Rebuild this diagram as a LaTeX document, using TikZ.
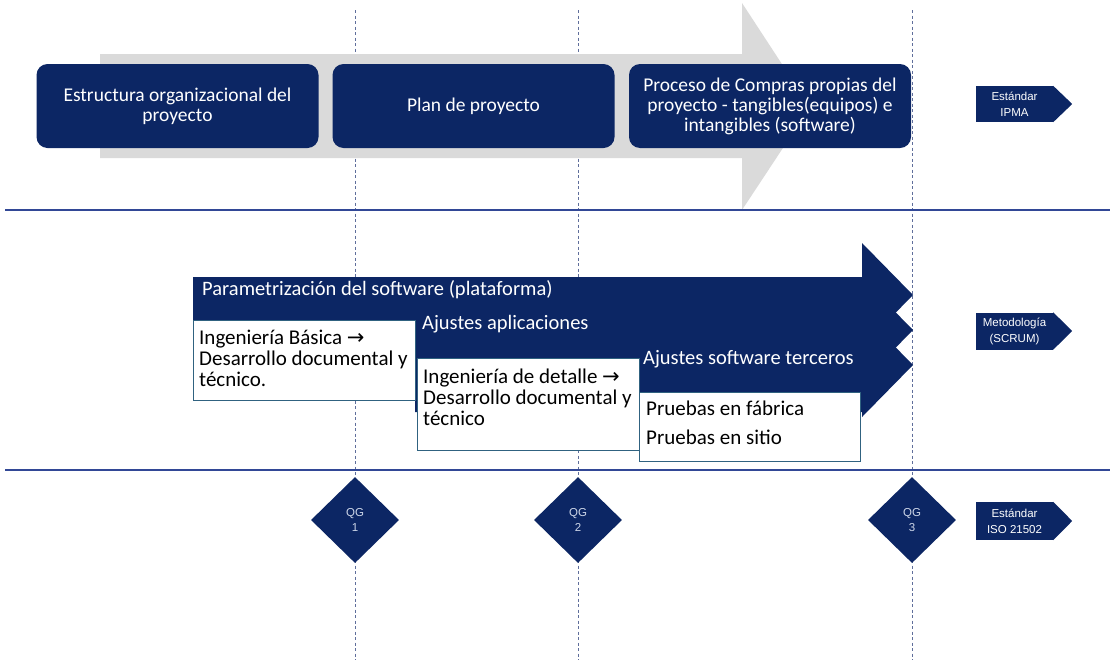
\documentclass[tikz,border=0pt]{standalone}
\usepackage{fontspec}
\setmainfont{Carlito}
\newfontfamily\arialfont{Liberation Sans}
\newfontfamily\symfont{DejaVu Sans}
\usetikzlibrary{shapes.geometric,calc}

\definecolor{navy}{RGB}{12,38,100}
\definecolor{greyarrow}{RGB}{218,218,218}
\definecolor{boxedge}{RGB}{48,98,128}
\definecolor{rulecol}{RGB}{50,72,150}
\definecolor{guide}{RGB}{95,110,155}
\definecolor{qgtext}{RGB}{205,214,232}

\newcommand{\ra}{{\symfont\char"2192}}

\begin{document}
\begin{tikzpicture}[x=1pt,y=-1pt,
  phasebox/.style={fill=navy, rounded corners=11pt, minimum width=282pt,
    minimum height=84pt, inner sep=0pt, text=white, align=center,
    font=\fontsize{19.5}{20}\selectfont},
  flowlabel/.style={anchor=west, inner sep=0pt, text=white,
    font=\fontsize{20.5}{21}\selectfont},
  taskbox/.style={draw=boxedge, line width=1.3pt, fill=white, anchor=north west,
    inner sep=0pt},
  tasktext/.style={anchor=west, inner sep=0pt, align=left, text=black,
    font=\fontsize{21}{21}\selectfont},
  gate/.style={diamond, fill=navy, minimum width=88pt, minimum height=86pt,
    inner sep=0pt, align=center, text=qgtext,
    font=\arialfont\fontsize{11.5}{15.5}\selectfont},
  tagbox/.style={fill=navy, minimum width=77pt, inner sep=0pt, align=center,
    text=white, font=\arialfont\fontsize{11.5}{16}\selectfont},
  guideline/.style={draw=guide, line width=0.9pt, dash pattern=on 3pt off 2.5pt},
  sectionrule/.style={draw=rulecol, line width=1.6pt}
]
\useasboundingbox (0,0) rectangle (1110,664);

% milestone guide lines
\foreach \n/\x in {g1/355, g2/578, g3/912} {
  \coordinate (\n top) at (\x,10);
  \coordinate (\n bot) at (\x,660);
  \draw[guideline] (\n top) -- (\n bot);
}

% background process arrow
\fill[greyarrow] (100,54) -- (742,54) -- (742,3) -- (810,107) -- (742,210)
  -- (742,158) -- (100,158) -- cycle;

% phase boxes
\node[phasebox] (p1) at (177.5,106) {Estructura organizacional del\\proyecto};
\node[phasebox] (p2) at (473.5,106) {Plan de proyecto};
\node[phasebox] (p3) at (770,106) {Proceso de Compras propias del\\proyecto - tangibles(equipos) e\\intangibles (software)};

% section rules
\coordinate (r1a) at (5,210);  \coordinate (r1b) at (1110,210);
\coordinate (r2a) at (5,470);  \coordinate (r2b) at (1110,470);
\draw[sectionrule] (r1a) -- (r1b);
\draw[sectionrule] (r2a) -- (r2b);

% stacked implementation arrows
\fill[navy] (415,340) -- (862,340) -- (862,313) -- (913,365) -- (862,417)
  -- (862,412) -- (415,412) -- cycle;
\fill[navy] (193,305) -- (862,305) -- (862,278) -- (913,330) -- (862,382)
  -- (862,372) -- (193,372) -- cycle;
\fill[navy] (193,277) -- (862,277) -- (862,243) -- (913,295) -- (862,347)
  -- (862,320) -- (193,320) -- cycle;

\node[flowlabel] (f1) at (202,290) {Parametrización del software (plataforma)};
\node[flowlabel] (f2) at (422,324) {Ajustes aplicaciones};
\node[flowlabel] (f3) at (643,359) {Ajustes software terceros};

% task boxes
\node[taskbox, minimum width=222pt, minimum height=80pt] (tA) at (193,320) {};
\node[taskbox, minimum width=222pt, minimum height=92pt] (tB) at (417,358) {};
\node[taskbox, minimum width=221pt, minimum height=69pt] (tC) at (639,392) {};

\node[tasktext] (xA) at (199,358) {Ingeniería Básica \ra\\Desarrollo documental y\\técnico.};
\node[tasktext] (xB) at (423,397) {Ingeniería de detalle \ra\\Desarrollo documental y\\técnico};
\node[tasktext, font=\fontsize{21}{29}\selectfont] (xC) at (646,422.5) {Pruebas en fábrica\\Pruebas en sitio};

% quality gates
\node[gate] (qg1) at (355,520) {QG\\1};
\node[gate] (qg2) at (578,520) {QG\\2};
\node[gate] (qg3) at (912,520) {QG\\3};

% framework tags
\node[tagbox, minimum height=36pt] (s1) at (1014.5,104) {Estándar\\IPMA};
\node[tagbox, minimum height=37pt] (s2) at (1014.5,331) {Metodología\\(SCRUM)};
\node[tagbox, minimum height=38pt] (s3) at (1014.5,521) {Estándar\\ISO 21502};
\foreach \t in {s1,s2,s3} {
  \fill[navy] (\t.north east) -- ($(\t.east)+(19,0)$) -- (\t.south east) -- cycle;
}
\end{tikzpicture}
\end{document}
